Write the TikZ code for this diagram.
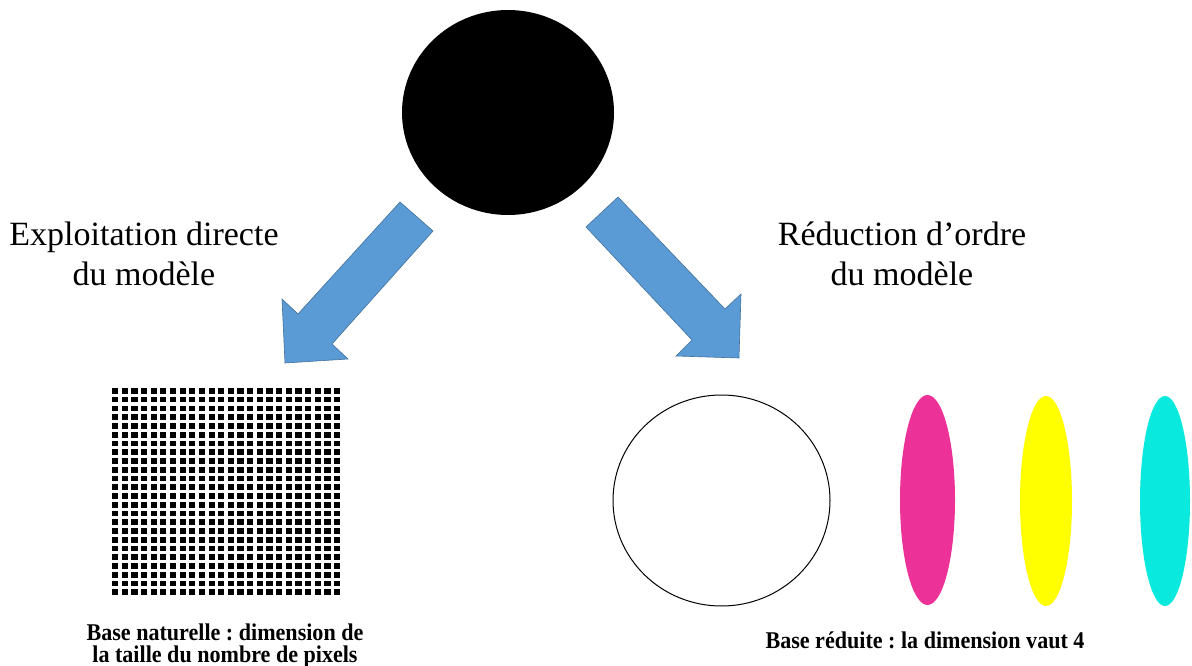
\documentclass[tikz,border=0pt]{standalone}
\usepackage{fontspec}
\setmainfont{Liberation Serif}
\newfontfamily\capfont[FakeStretch=0.92]{Liberation Serif}
\usetikzlibrary{shapes.geometric}
\frenchspacing
\definecolor{arrowblue}{HTML}{5B9BD5}
\definecolor{arrowedge}{HTML}{41719C}
\definecolor{modepink}{HTML}{EC3199}
\definecolor{modeyellow}{HTML}{FFFF00}
\definecolor{modecyan}{HTML}{0AE9DE}
\begin{document}
\begin{tikzpicture}[x=1pt,y=-1pt,
  blockarrow/.style={fill=arrowblue, draw=arrowedge, line width=0.6pt, line join=miter},
  bigtext/.style={font=\fontsize{34}{40}\selectfont, align=center, inner sep=0pt},
  smalltext/.style={font=\capfont\bfseries\fontsize{24}{22}\selectfont, align=center, inner sep=0pt},
  pixel/.style={fill=black},
  mode/.style={ellipse, inner sep=0pt, minimum width=#1, minimum height=210pt}
]
\useasboundingbox (0,0) rectangle (1192,666);
\fill[white] (0,0) rectangle (1192,666);

% full model
\node[ellipse, fill=black, inner sep=0pt, minimum width=212pt, minimum height=205pt] (model) at (508,112.5) {};

% arrows
\draw[blockarrow] (400,202) -- (433,231) -- (332,344) -- (348,359) -- (285,363) -- (282,299) -- (298,314) -- cycle;
\draw[blockarrow] (618,197) -- (586,227) -- (692,340) -- (676,356) -- (739,358) -- (741,294) -- (725,309) -- cycle;

% titles (anchor=base is the baseline of the last line)
\node[bigtext, anchor=base] (lefttitle) at (144,285) {Exploitation directe\\du modèle};
\node[bigtext, anchor=base] (righttitle) at (902,285) {Réduction d’ordre\\du modèle};

% pixel grid
\foreach \i in {0,...,23}{
  \foreach \j in {0,...,23}{
    \fill[pixel] ({112+9.65*\i},{388+8.76*\j}) rectangle ++(6.2,5.7);
  }
}

% reduced basis
\node[mode=217pt, draw=black, line width=1pt, minimum height=211pt] (m0) at (721.5,500.5) {};
\node[mode=55pt, fill=modepink] (m1) at (927.5,500) {};
\node[mode=52pt, fill=modeyellow] (m2) at (1046,501) {};
\node[mode=50pt, fill=modecyan] (m3) at (1165,501) {};

% captions
\node[smalltext, anchor=base] (leftcap) at (225,662) {Base naturelle : dimension de\\la taille du nombre de pixels};
\node[smalltext, anchor=base] (rightcap) at (925,648) {Base réduite : la dimension vaut 4};
\end{tikzpicture}
\end{document}
